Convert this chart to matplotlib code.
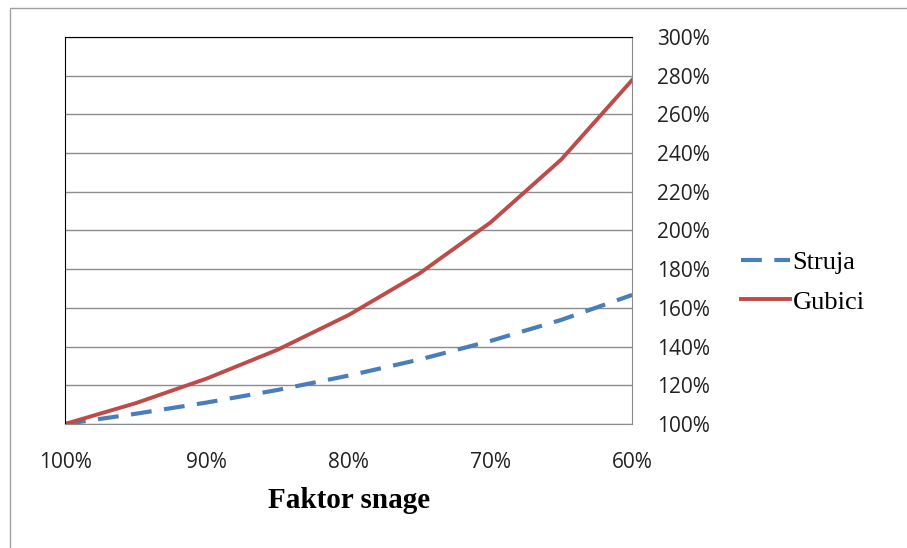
import matplotlib.pyplot as plt
from matplotlib.patches import Rectangle
from matplotlib.ticker import FuncFormatter

# faktor snage (%) i relativne vrijednosti (%)
faktor = [100, 95, 90, 85, 80, 75, 70, 65, 60]
struja = [100, 105.3, 111.1, 117.6, 125.0, 133.3, 142.9, 153.8, 166.7]
gubici = [100, 110.8, 123.5, 138.4, 156.3, 177.8, 204.1, 236.7, 277.8]

x_ticks = [100, 90, 80, 70, 60]
y_ticks = [100, 120, 140, 160, 180, 200, 220, 240, 260, 280, 300]

fig = plt.figure(figsize=(9.07, 5.48), dpi=100)
fig.patches.append(Rectangle((0.011, -0.1), 1.2, 1.086, transform=fig.transFigure,
                             fill=False, edgecolor='#a0a0a0', linewidth=1))

ax = fig.add_axes([0.0717, 0.2263, 0.6253, 0.7062])
ax.plot(faktor, struja, color='#4a7ebb', lw=3, dashes=(5, 3), label='Struja')
ax.plot(faktor, gubici, color='#be4b48', lw=2.8, label='Gubici')

ax.set_xlim(100, 60)
ax.set_ylim(100, 300)
ax.set_xticks(x_ticks)
ax.set_yticks(y_ticks)
pct = FuncFormatter(lambda v, p: '%d%%' % v)
ax.xaxis.set_major_formatter(pct)
ax.yaxis.set_major_formatter(pct)
ax.yaxis.tick_right()
ax.tick_params(length=0, labelsize=15, colors='#222222')
ax.tick_params(axis='y', pad=18)
ax.tick_params(axis='x', pad=20)
for lab in ax.get_xticklabels() + ax.get_yticklabels():
    lab.set_fontfamily('Open Sans')
ax.grid(axis='y', color='#8c8c8c', lw=1)
ax.set_axisbelow(True)

ax.spines['top'].set_color('black')
ax.spines['left'].set_color('black')
ax.spines['right'].set_color('#8c8c8c')
ax.spines['bottom'].set_color('#8c8c8c')

ax.set_xlabel('Faktor snage', fontfamily='Liberation Serif', fontweight='bold',
              fontsize=21, labelpad=10)

fig.legend(loc='center left', bbox_to_anchor=(0.791, 0.485), frameon=False,
           prop={'family': 'Liberation Serif', 'size': 19},
           handlelength=1.85, handletextpad=0.1, labelspacing=0.6)

fig.savefig('out.png', dpi=100)
